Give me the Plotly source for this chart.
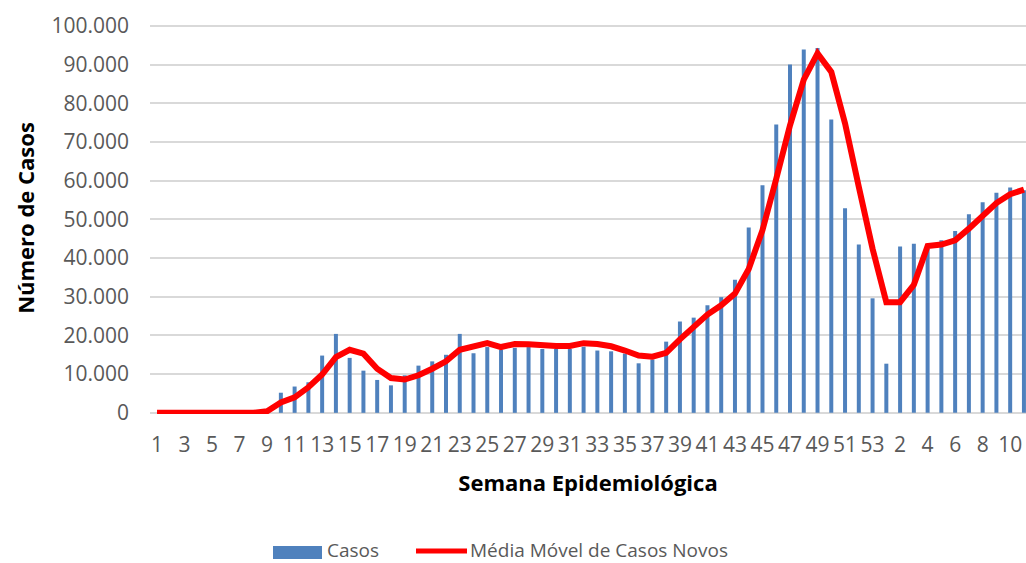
import plotly.graph_objects as go

# Week labels: epidemiological weeks 1..53 of year 1, then 1..11 of year 2
semanas = [str(i) for i in range(1, 54)] + [str(i) for i in range(1, 12)]

casos = [
    0, 0, 0, 0, 0, 0, 0, 0, 0, 5200,
    6800, 7900, 14800, 20400, 14200, 10900, 8500, 7100, 9700, 12200,
    13300, 15000, 20400, 15400, 17000, 16300, 16800, 17000, 16500, 16500,
    16500, 17100, 16100, 15900, 15300, 12800, 13800, 18400, 23600, 24600,
    27800, 29900, 34400, 47900, 58800, 74500, 90000, 93900, 94300, 75800,
    52900, 43500, 29600, 12700, 43000, 43700, 43300, 44600, 47000, 51300,
    54400, 56900, 58200, 57500,
]

media_movel = [
    0, 0, 0, 0, 0, 0, 0, 0, 400, 2700,
    4000, 6600, 9900, 14400, 16300, 15300, 11400, 9000, 8600, 9700,
    11400, 13300, 16300, 17000, 18000, 17000, 17800, 17700, 17400, 17300,
    17300, 18000, 17800, 17200, 16100, 14800, 14500, 15500, 19000, 22100,
    25400, 27800, 30800, 37200, 47200, 60500, 74300, 86100, 92900, 88100,
    74800, 58400, 42400, 28600, 28600, 33100, 43100, 43500, 44600, 47600,
    50800, 54200, 56500, 57700,
]

nome_casos = "Casos"
nome_media = "Média Móvel de Casos Novos"

y_ticks = list(range(0, 100001, 10000))
y_ticktext = ["0" if v == 0 else f"{v:,}".replace(",", ".") for v in y_ticks]

pos = list(range(1, len(semanas) + 1))
tick_pos = pos[::2]
tick_text = semanas[::2]

FONT = "Open Sans"
GRAY = "#595959"
BLUE = "#4F81BD"
RED = "#FF0000"

W, H = 1026, 563
ML, MR, MT, MB = 150, 0, 22, 149
PW, PH = W - ML - MR, H - MT - MB


def px(x):
    return (x - ML) / PW


def py(y):
    return (H - MB - y) / PH


fig = go.Figure()
fig.add_trace(go.Bar(
    x=pos, y=casos, name=nome_casos,
    marker=dict(color=BLUE, line=dict(width=0)),
))
fig.add_trace(go.Scatter(
    x=pos, y=media_movel, name=nome_media,
    mode="lines", line=dict(color=RED, width=6),
))

# Legend drawn at the bottom (wide swatches as in the reference)
fig.add_shape(type="rect", xref="paper", yref="paper",
              x0=px(273), x1=px(322), y0=py(559), y1=py(546),
              fillcolor=BLUE, line=dict(width=0), layer="above")
fig.add_shape(type="line", xref="paper", yref="paper",
              x0=px(416), x1=px(467), y0=py(551), y1=py(551),
              line=dict(color=RED, width=5), layer="above")
fig.add_annotation(text=nome_casos, xref="paper", yref="paper",
                   x=px(326), y=py(550), xanchor="left", yanchor="middle",
                   borderpad=0, showarrow=False,
                   font=dict(family=FONT, size=19, color=GRAY))
fig.add_annotation(text=nome_media, xref="paper", yref="paper",
                   x=px(469), y=py(550), xanchor="left", yanchor="middle",
                   borderpad=0, showarrow=False,
                   font=dict(family=FONT, size=19, color=GRAY))

fig.update_layout(
    width=W, height=H,
    margin=dict(l=ML, r=MR, t=MT, b=MB),
    paper_bgcolor="white", plot_bgcolor="white",
    bargap=0.71,
    font=dict(family=FONT, size=19, color=GRAY),
    showlegend=False,
    xaxis=dict(
        range=[0.49, 64.15], automargin=False,
        tickmode="array", tickvals=tick_pos, ticktext=tick_text,
        tickangle=0,
        showgrid=False, zeroline=False, showline=False, ticks="",
        ticklabelstandoff=16,
        tickfont=dict(family=FONT, size=21, color=GRAY),
        title=dict(text="<b>Semana Epidemiológica</b>",
                   font=dict(family=FONT, size=22, color="black"), standoff=18),
    ),
    yaxis=dict(
        range=[-300, 101000], automargin=False,
        tickmode="array", tickvals=y_ticks, ticktext=y_ticktext,
        showgrid=True, gridcolor="#D9D9D9", gridwidth=1.5,
        zeroline=False, showline=False, ticks="",
        ticklabelstandoff=20,
        tickfont=dict(family=FONT, size=21, color=GRAY),
        title=dict(text="<b>Número de Casos</b>",
                   font=dict(family=FONT, size=22, color="black"), standoff=10),
    ),
)

fig.write_html(
    "out.html",
    config={"displayModeBar": False},
    post_script="document.body.style.margin='0';document.body.style.overflow='hidden';",
)
